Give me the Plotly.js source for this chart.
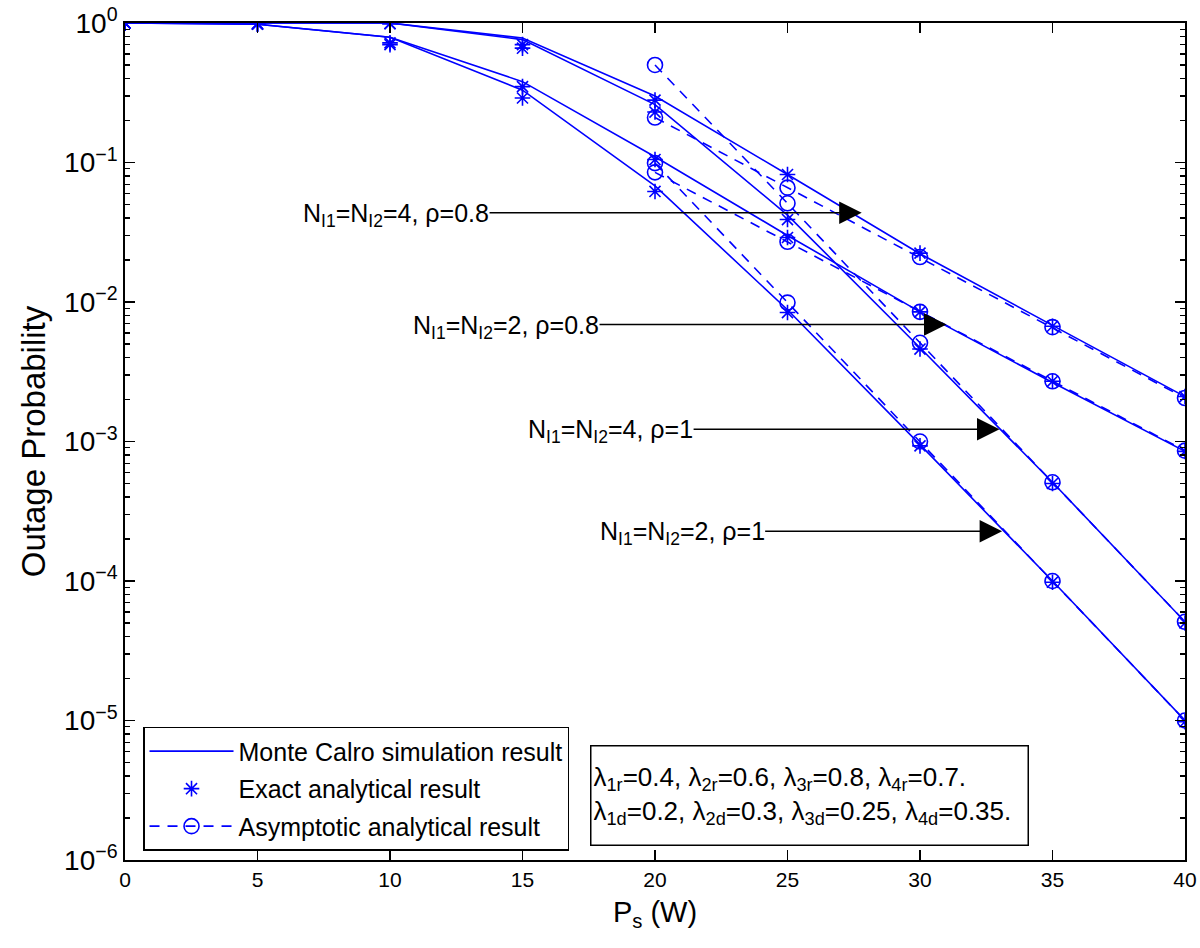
<!DOCTYPE html>
<html>
<head>
<meta charset="utf-8">
<script src="https://cdn.plot.ly/plotly-3.0.1.min.js"></script>
<style>
html,body{margin:0;padding:0;background:#fff;}
#chart{width:1200px;height:948px;}
</style>
</head>
<body>
<div id="chart"></div>
<script>
// ---- data ----
const xFull = [0, 5, 10, 15, 20, 25, 30, 35, 40];
const xAsym = [20, 25, 30, 35, 40];

// N_I1=N_I2=4, rho=0.8
const simA   = [1, 1, 1, 0.78, 0.30, 0.082, 0.0222, 0.0068, 0.0021];
const exactA = [1, 0.99, 0.99, 0.70, 0.28, 0.082, 0.0224, 0.0067, 0.0021];
const asymA  = [0.21, 0.066, 0.021, 0.0066, 0.00205];

// N_I1=N_I2=4, rho=1
const simC   = [1, 1, 1, 0.76, 0.26, 0.042, 0.0047, 0.00051, 0.000051];
const exactC = [1, 0.99, 0.99, 0.66, 0.23, 0.039, 0.0046, 0.0005, 0.00005];
const asymC  = [0.50, 0.051, 0.0051, 0.00051, 0.000051];

// N_I1=N_I2=2, rho=0.8
const simB   = [1, 0.98, 0.79, 0.38, 0.11, 0.030, 0.0085, 0.00265, 0.00085];
const exactB = [1, 0.98, 0.72, 0.35, 0.105, 0.029, 0.0085, 0.0027, 0.00085];
const asymB  = [0.085, 0.027, 0.0085, 0.0027, 0.00086];

// N_I1=N_I2=2, rho=1
const simD   = [1, 0.98, 0.79, 0.33, 0.068, 0.0088, 0.00095, 0.0001, 0.00001];
const exactD = [1, 0.98, 0.70, 0.29, 0.062, 0.0084, 0.00093, 0.000098, 0.0000098];
const asymD  = [0.099, 0.0099, 0.001, 0.0001, 0.00001];

const legendNames = ['Monte Calro simulation result', 'Exact analytical result', 'Asymptotic analytical result'];
const yTickVals = [1, 0.1, 0.01, 0.001, 0.0001, 0.00001, 0.000001];
const yTickText = ['10<sup>0</sup>', '10<sup>−1</sup>', '10<sup>−2</sup>', '10<sup>−3</sup>', '10<sup>−4</sup>', '10<sup>−5</sup>', '10<sup>−6</sup>'];
const xTickVals = [0, 5, 10, 15, 20, 25, 30, 35, 40];

// ---- traces ----
const BLUE = 'rgb(0,0,255)';
const sims = [simA, simB, simC, simD];
const exacts = [exactA, exactB, exactC, exactD];
const asyms = [asymA, asymB, asymC, asymD];
const traces = [];
sims.forEach((s, i) => traces.push({
  x: xFull, y: s, mode: 'lines', type: 'scatter',
  line: {color: BLUE, width: 1.6},
  name: legendNames[0], showlegend: i === 0, legendgroup: 'sim'
}));
exacts.forEach((s, i) => traces.push({
  x: xFull, y: s, mode: 'markers', type: 'scatter',
  marker: {symbol: 'asterisk-open', size: 13, color: BLUE, line: {color: BLUE, width: 1.6}},
  name: legendNames[1], showlegend: i === 0, legendgroup: 'exact'
}));
asyms.forEach((s, i) => traces.push({
  x: xAsym, y: s, mode: 'lines+markers', type: 'scatter',
  line: {color: BLUE, width: 1.6, dash: '10px,8px'},
  marker: {symbol: 'circle-open', size: 15, color: BLUE, line: {color: BLUE, width: 1.6}},
  name: legendNames[2], showlegend: i === 0, legendgroup: 'asym'
}));

// minor ticks for log axis
const minorVals = [];
for (let e = -6; e < 0; e++) for (let m = 2; m <= 9; m++) minorVals.push(m * Math.pow(10, e));

const FONT = 'Liberation Sans, Arial, Helvetica, sans-serif';
const annFont = {family: FONT, size: 25, color: '#000'};
function arrowAnn(xt, yt, xs) {
  return {x: xt, y: yt, ax: xs, ay: yt, xref: 'x', yref: 'y', axref: 'x', ayref: 'y',
    text: '', showarrow: true, arrowhead: 2, arrowsize: 3, arrowwidth: 1.5, arrowcolor: '#000', standoff: 0, startstandoff: 0};
}
function textAnn(xs, yt, txt) {
  return {x: xs, y: yt, xref: 'x', yref: 'y', text: txt, showarrow: false,
    xanchor: 'right', yanchor: 'middle', font: annFont, xshift: 3, yshift: -2};
}

const layout = {
  width: 1200, height: 948,
  margin: {l: 125, r: 15, t: 23, b: 88},
  paper_bgcolor: '#fff', plot_bgcolor: '#fff',
  showlegend: true,
  xaxis: {
    range: [0, 40], tickmode: 'array', tickvals: xTickVals,
    ticks: 'inside', ticklen: 10, tickwidth: 1.5, tickcolor: '#000',
    showline: true, linecolor: '#000', linewidth: 1.8, mirror: 'ticks',
    showgrid: false, zeroline: false,
    tickfont: {family: FONT, size: 21, color: '#000'},
    title: {text: 'P<sub>s</sub> (W)', font: {family: FONT, size: 29, color: '#000'}, standoff: 12}
  },
  yaxis: {
    type: 'log', range: [-6, 0], tickmode: 'array', tickvals: yTickVals, ticktext: yTickText,
    ticks: 'inside', ticklen: 10, tickwidth: 1.5, tickcolor: '#000',
    minor: {tickmode: 'array', tickvals: minorVals, ticks: 'inside', ticklen: 5, tickwidth: 1.2, tickcolor: '#000', showgrid: false},
    showline: true, linecolor: '#000', linewidth: 1.8, mirror: 'ticks',
    showgrid: false, zeroline: false,
    tickfont: {family: FONT, size: 28, color: '#000'},
    title: {text: 'Outage Probability', font: {family: FONT, size: 33, color: '#000'}, standoff: 8}
  },
  legend: {
    x: 0.017, y: 0.159, xanchor: 'left', yanchor: 'top',
    bgcolor: '#fff', bordercolor: '#000', borderwidth: 1.5,
    font: {family: FONT, size: 25, color: '#000'},
    itemwidth: 84, tracegroupgap: 2
  },
  annotations: [
    arrowAnn(27.8, -1.36, 13.7), textAnn(13.7, -1.36, 'N<sub>I1</sub>=N<sub>I2</sub>=4, ρ=0.8'),
    arrowAnn(31.0, -2.162, 17.85), textAnn(17.85, -2.162, 'N<sub>I1</sub>=N<sub>I2</sub>=2, ρ=0.8'),
    arrowAnn(33.0, -2.913, 21.4), textAnn(21.4, -2.913, 'N<sub>I1</sub>=N<sub>I2</sub>=4, ρ=1'),
    arrowAnn(33.1, -3.644, 24.1), textAnn(24.1, -3.644, 'N<sub>I1</sub>=N<sub>I2</sub>=2, ρ=1'),
    {
      xref: 'paper', yref: 'paper', x: 0.4387, y: 0.1374, xanchor: 'left', yanchor: 'top',
      text: 'λ<sub>1r</sub>=0.4, λ<sub>2r</sub>=0.6, λ<sub>3r</sub>=0.8, λ<sub>4r</sub>=0.7.<br>λ<sub>1d</sub>=0.2, λ<sub>2d</sub>=0.3, λ<sub>3d</sub>=0.25, λ<sub>4d</sub>=0.35.',
      showarrow: false, align: 'left', valign: 'middle',
      width: 432, height: 94, bgcolor: '#fff', bordercolor: '#000', borderwidth: 1.5, borderpad: 2,
      font: {family: FONT, size: 26, color: '#000'}
    }
  ]
};

Plotly.newPlot('chart', traces, layout, {displayModeBar: false, staticPlot: true});
</script>
</body>
</html>
